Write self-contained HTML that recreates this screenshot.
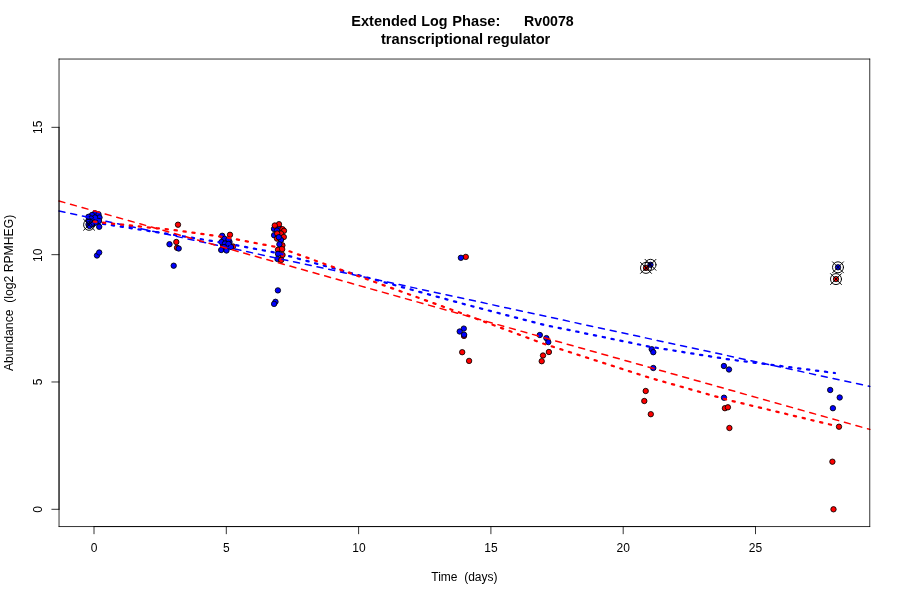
<!DOCTYPE html>
<html><head><meta charset="utf-8"><title>Extended Log Phase: Rv0078</title>
<style>
html,body{margin:0;padding:0;background:#fff;}
svg{display:block;}
text{font-family:"Liberation Sans",Arial,Helvetica,sans-serif;fill:#000;}
.t{font-size:14.4px;font-weight:bold;}
.a{font-size:12px;}
.ln{stroke:#000;stroke-width:0.8;fill:none;stroke-linecap:round;}
.p{stroke:#000;stroke-width:0.85;}
.m{stroke:#000;stroke-width:0.95;fill:none;stroke-linecap:round;}
</style></head><body>
<svg width="900" height="600" viewBox="0 0 900 600">
<rect x="0" y="0" width="900" height="600" fill="#fff"/>

<g class="p">
<circle cx="93.5" cy="219.5" r="2.7" fill="#0000ff"/>
<circle cx="96.5" cy="215.5" r="2.7" fill="#0000ff"/>
<circle cx="90.0" cy="222.5" r="2.7" fill="#0000ff"/>
<circle cx="97.5" cy="219.0" r="2.7" fill="#0000ff"/>
<circle cx="93.0" cy="224.0" r="2.7" fill="#0000ff"/>
<circle cx="95.0" cy="213.3" r="2.7" fill="#0000ff"/>
<circle cx="98.5" cy="214.3" r="2.7" fill="#0000ff"/>
<circle cx="92.0" cy="215.0" r="2.7" fill="#0000ff"/>
<circle cx="88.5" cy="216.8" r="2.7" fill="#0000ff"/>
<circle cx="99.5" cy="217.5" r="2.7" fill="#0000ff"/>
<circle cx="95.0" cy="217.5" r="2.7" fill="#0000ff"/>
<circle cx="91.0" cy="218.5" r="2.7" fill="#0000ff"/>
<circle cx="99.0" cy="221.0" r="2.7" fill="#0000ff"/>
<circle cx="88.5" cy="220.5" r="2.7" fill="#0000ff"/>
<circle cx="92.5" cy="221.5" r="2.7" fill="#0000ff"/>
<circle cx="95.5" cy="222.5" r="2.7" fill="#0000ff"/>
<circle cx="88.5" cy="224.5" r="2.7" fill="#0000ff"/>
<circle cx="91.5" cy="224.5" r="2.7" fill="#0000ff"/>
<circle cx="89.5" cy="226.0" r="2.7" fill="#0000ff"/>
<circle cx="99.2" cy="226.8" r="2.7" fill="#0000ff"/>
<circle cx="97.0" cy="255.5" r="2.7" fill="#0000ff"/>
<circle cx="99.2" cy="252.5" r="2.7" fill="#0000ff"/>
<circle cx="178.0" cy="224.7" r="2.7" fill="#ff0000"/>
<circle cx="176.3" cy="242.0" r="2.7" fill="#ff0000"/>
<circle cx="169.5" cy="244.2" r="2.7" fill="#0000ff"/>
<circle cx="177.0" cy="247.8" r="2.7" fill="#ff0000"/>
<circle cx="178.7" cy="248.5" r="2.7" fill="#0000ff"/>
<circle cx="173.7" cy="265.7" r="2.7" fill="#0000ff"/>
<circle cx="233.0" cy="246.5" r="2.7" fill="#ff0000"/>
<circle cx="230.0" cy="234.8" r="2.7" fill="#ff0000"/>
<circle cx="223.5" cy="241.0" r="2.7" fill="#0000ff"/>
<circle cx="226.5" cy="246.5" r="2.7" fill="#0000ff"/>
<circle cx="229.5" cy="242.0" r="2.7" fill="#0000ff"/>
<circle cx="223.0" cy="245.0" r="2.7" fill="#0000ff"/>
<circle cx="222.2" cy="235.8" r="2.7" fill="#0000ff"/>
<circle cx="224.5" cy="238.8" r="2.7" fill="#0000ff"/>
<circle cx="228.5" cy="239.5" r="2.7" fill="#0000ff"/>
<circle cx="221.5" cy="242.0" r="2.7" fill="#0000ff"/>
<circle cx="225.0" cy="243.5" r="2.7" fill="#0000ff"/>
<circle cx="228.5" cy="244.0" r="2.7" fill="#0000ff"/>
<circle cx="231.0" cy="247.0" r="2.7" fill="#0000ff"/>
<circle cx="224.0" cy="247.0" r="2.7" fill="#0000ff"/>
<circle cx="221.2" cy="250.0" r="2.7" fill="#0000ff"/>
<circle cx="226.5" cy="250.5" r="2.7" fill="#0000ff"/>
<circle cx="274.0" cy="228.9" r="2.7" fill="#0000ff"/>
<circle cx="279.5" cy="228.0" r="2.7" fill="#0000ff"/>
<circle cx="277.0" cy="230.5" r="2.7" fill="#0000ff"/>
<circle cx="274.1" cy="235.2" r="2.7" fill="#0000ff"/>
<circle cx="279.0" cy="224.2" r="2.7" fill="#ff0000"/>
<circle cx="274.8" cy="225.5" r="2.7" fill="#ff0000"/>
<circle cx="282.5" cy="229.2" r="2.7" fill="#ff0000"/>
<circle cx="284.0" cy="230.8" r="2.7" fill="#ff0000"/>
<circle cx="281.0" cy="233.5" r="2.7" fill="#ff0000"/>
<circle cx="277.2" cy="233.5" r="2.7" fill="#ff0000"/>
<circle cx="283.8" cy="237.0" r="2.7" fill="#ff0000"/>
<circle cx="277.0" cy="238.6" r="2.7" fill="#ff0000"/>
<circle cx="281.0" cy="240.0" r="2.7" fill="#0000ff"/>
<circle cx="278.8" cy="237.2" r="2.7" fill="#0000ff"/>
<circle cx="282.4" cy="245.3" r="2.7" fill="#ff0000"/>
<circle cx="279.4" cy="244.3" r="2.7" fill="#0000ff"/>
<circle cx="278.0" cy="249.8" r="2.7" fill="#ff0000"/>
<circle cx="282.2" cy="249.2" r="2.7" fill="#ff0000"/>
<circle cx="282.5" cy="255.0" r="2.7" fill="#ff0000"/>
<circle cx="278.0" cy="253.8" r="2.7" fill="#0000ff"/>
<circle cx="277.5" cy="259.0" r="2.7" fill="#0000ff"/>
<circle cx="281.2" cy="260.0" r="2.7" fill="#ff0000"/>
<circle cx="277.9" cy="290.4" r="2.7" fill="#0000ff"/>
<circle cx="275.5" cy="301.8" r="2.7" fill="#0000ff"/>
<circle cx="274.1" cy="303.9" r="2.7" fill="#0000ff"/>
<circle cx="465.8" cy="256.9" r="2.7" fill="#ff0000"/>
<circle cx="460.9" cy="257.8" r="2.7" fill="#0000ff"/>
<circle cx="464.0" cy="335.9" r="2.7" fill="#ff0000"/>
<circle cx="463.8" cy="328.6" r="2.7" fill="#0000ff"/>
<circle cx="459.7" cy="331.5" r="2.7" fill="#0000ff"/>
<circle cx="464.1" cy="334.7" r="2.7" fill="#0000ff"/>
<circle cx="462.2" cy="352.2" r="2.7" fill="#ff0000"/>
<circle cx="469.1" cy="360.9" r="2.7" fill="#ff0000"/>
<circle cx="539.8" cy="335.0" r="2.7" fill="#0000ff"/>
<circle cx="546.4" cy="338.1" r="2.7" fill="#0000ff"/>
<circle cx="548.3" cy="342.1" r="2.7" fill="#0000ff"/>
<circle cx="548.9" cy="352.0" r="2.7" fill="#ff0000"/>
<circle cx="541.7" cy="361.2" r="2.7" fill="#ff0000"/>
<circle cx="543.0" cy="355.5" r="2.7" fill="#ff0000"/>
<circle cx="646.0" cy="267.9" r="2.7" fill="#ff0000"/>
<circle cx="650.5" cy="264.8" r="2.7" fill="#0000ff"/>
<circle cx="651.7" cy="349.2" r="2.7" fill="#0000ff"/>
<circle cx="653.3" cy="352.2" r="2.7" fill="#0000ff"/>
<circle cx="653.3" cy="368.0" r="2.7" fill="#0000ff"/>
<circle cx="645.7" cy="391.0" r="2.7" fill="#ff0000"/>
<circle cx="644.3" cy="401.0" r="2.7" fill="#ff0000"/>
<circle cx="650.8" cy="414.2" r="2.7" fill="#ff0000"/>
<circle cx="723.9" cy="366.0" r="2.7" fill="#0000ff"/>
<circle cx="729.0" cy="369.5" r="2.7" fill="#0000ff"/>
<circle cx="724.0" cy="397.7" r="2.7" fill="#0000ff"/>
<circle cx="724.9" cy="408.2" r="2.7" fill="#ff0000"/>
<circle cx="727.9" cy="407.3" r="2.7" fill="#ff0000"/>
<circle cx="729.4" cy="428.0" r="2.7" fill="#ff0000"/>
<circle cx="838.0" cy="267.3" r="2.7" fill="#0000ff"/>
<circle cx="836.0" cy="279.1" r="2.7" fill="#ff0000"/>
<circle cx="830.2" cy="390.0" r="2.7" fill="#0000ff"/>
<circle cx="839.7" cy="397.5" r="2.7" fill="#0000ff"/>
<circle cx="832.9" cy="408.2" r="2.7" fill="#0000ff"/>
<circle cx="839.0" cy="426.7" r="2.7" fill="#ff0000"/>
<circle cx="832.4" cy="461.7" r="2.7" fill="#ff0000"/>
<circle cx="833.5" cy="509.3" r="2.7" fill="#ff0000"/>
</g>
<g class="m">
<circle cx="89.1" cy="224.8" r="5.5"/>
<path d="M83.6 219.3L94.6 230.3M83.6 230.3L94.6 219.3"/>
<circle cx="646.0" cy="267.9" r="5.5"/>
<path d="M640.5 262.4L651.5 273.4M640.5 273.4L651.5 262.4"/>
<circle cx="650.5" cy="264.8" r="5.5"/>
<path d="M645.0 259.3L656.0 270.3M645.0 270.3L656.0 259.3"/>
<circle cx="838.0" cy="267.3" r="5.5"/>
<path d="M832.5 261.8L843.5 272.8M832.5 272.8L843.5 261.8"/>
<circle cx="836.0" cy="279.1" r="5.5"/>
<path d="M830.5 273.6L841.5 284.6M830.5 284.6L841.5 273.6"/>
</g>
<polyline points="59.0,211.0 869.8,386.4" fill="none" stroke="#0000ff" stroke-width="1.5" stroke-dasharray="6 6" stroke-linecap="round" stroke-linejoin="round"/>
<polyline points="94.0,222.5 173.4,234.7 226.3,243.3 279.2,253.4 464.4,304.2 543.8,324.8 649.7,346.7 729.0,359.4 834.9,373.0" fill="none" stroke="#0000ff" stroke-width="2.25" stroke-dasharray="2.25 6.75" stroke-linecap="round" stroke-linejoin="round"/>
<polyline points="59.0,201.0 869.8,429.4" fill="none" stroke="#ff0000" stroke-width="1.5" stroke-dasharray="6 6" stroke-linecap="round" stroke-linejoin="round"/>
<polyline points="94.0,221.7 173.4,230.0 226.3,237.4 279.2,247.6 464.4,314.3 543.8,343.8 649.7,377.8 729.0,400.2 834.9,425.7" fill="none" stroke="#ff0000" stroke-width="2.25" stroke-dasharray="2.25 6.75" stroke-linecap="round" stroke-linejoin="round"/>
<g class="ln">
<path d="M94.00 526.56H755.50"/>
<path d="M94.00 526.56v7.2"/>
<path d="M226.30 526.56v7.2"/>
<path d="M358.60 526.56v7.2"/>
<path d="M490.90 526.56v7.2"/>
<path d="M623.20 526.56v7.2"/>
<path d="M755.50 526.56v7.2"/>
<path d="M59.04 509.30V127.34"/>
<path d="M59.04 509.30h-7.2"/>
<path d="M59.04 381.98h-7.2"/>
<path d="M59.04 254.66h-7.2"/>
<path d="M59.04 127.34h-7.2"/>
<path d="M59.04 526.56H869.76M869.76 526.56V59.04M869.76 59.04H59.04M59.04 59.04V526.56"/>
</g>
<text class="a" x="94.00" y="551.8" text-anchor="middle">0</text>
<text class="a" x="226.30" y="551.8" text-anchor="middle">5</text>
<text class="a" x="359.00" y="551.8" text-anchor="middle">10</text>
<text class="a" x="490.90" y="551.8" text-anchor="middle">15</text>
<text class="a" x="623.20" y="551.8" text-anchor="middle">20</text>
<text class="a" x="755.50" y="551.8" text-anchor="middle">25</text>
<text class="a" transform="translate(41.8 509.30) rotate(-90)" text-anchor="middle">0</text>
<text class="a" transform="translate(41.8 381.98) rotate(-90)" text-anchor="middle">5</text>
<text class="a" transform="translate(41.8 255.26) rotate(-90)" text-anchor="middle">10</text>
<text class="a" transform="translate(41.8 127.34) rotate(-90)" text-anchor="middle">15</text>
<text class="t" id="w0" transform="translate(351.20 26.0) scale(1 1.07)" textLength="65.60" lengthAdjust="spacingAndGlyphs">Extended</text>
<text class="t" id="w1" transform="translate(421.20 26.0) scale(1 1.07)" textLength="26.20" lengthAdjust="spacingAndGlyphs">Log</text>
<text class="t" id="w2" transform="translate(452.30 26.0) scale(1 1.07)" textLength="48.00" lengthAdjust="spacingAndGlyphs">Phase:</text>
<text class="t" id="w3" transform="translate(524.00 26.0) scale(1 1.07)" textLength="49.70" lengthAdjust="spacingAndGlyphs">Rv0078</text>
<text class="t" id="w4" transform="translate(380.90 44.0) scale(1 1.07)" textLength="102.20" lengthAdjust="spacingAndGlyphs">transcriptional</text>
<text class="t" id="w5" transform="translate(486.95 44.0) scale(1 1.07)" textLength="63.30" lengthAdjust="spacingAndGlyphs">regulator</text>
<text class="a" x="464.4" y="581" text-anchor="middle" xml:space="preserve">Time  (days)</text>
<text class="a" transform="translate(13.2 371.1) rotate(-90)" textLength="156.3" lengthAdjust="spacingAndGlyphs" xml:space="preserve">Abundance  (log2 RPMHEG)</text>
</svg></body></html>
